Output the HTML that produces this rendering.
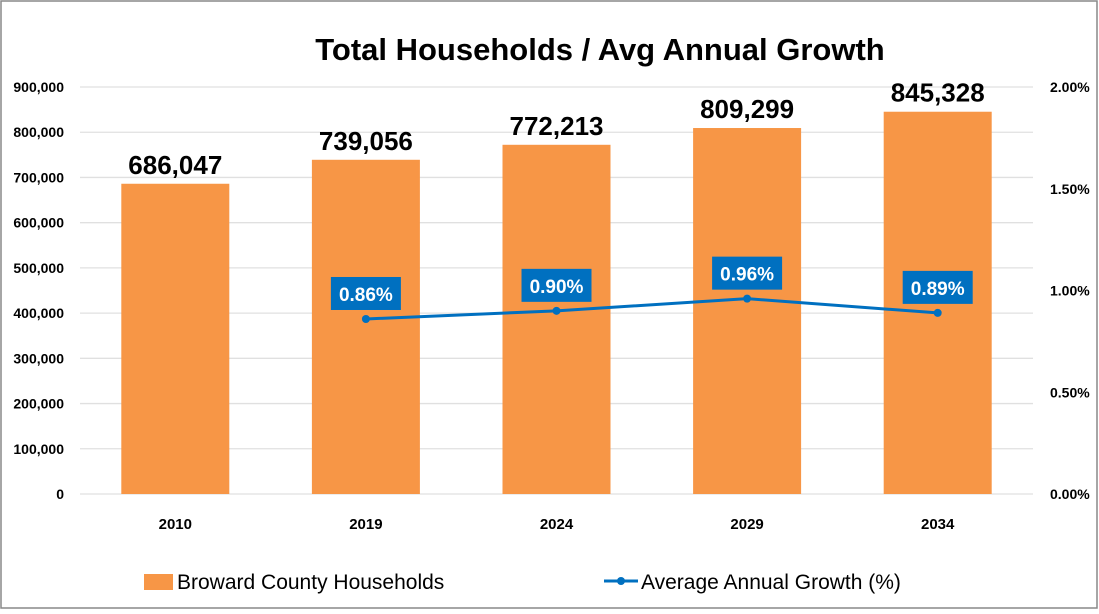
<!DOCTYPE html>
<html><head><meta charset="utf-8"><style>
body{margin:0;background:#fff;}
svg{display:block;font-family:"Liberation Sans",sans-serif;}
</style></head><body>
<svg id="c" width="1099" height="614">
<rect x="1" y="1" width="1096" height="607" fill="#fff" stroke="#888" stroke-width="1.5"/>
<text x="600" y="60" text-anchor="middle" font-size="31" font-weight="bold" fill="#000">Total Households / Avg Annual Growth</text>
<g id="grid"></g><g id="bars"></g><g id="line"></g><g id="labels"></g>
<g>
<rect x="144" y="574" width="29" height="16" fill="#F79646"/>
<text x="177" y="589" font-size="21" fill="#000">Broward County Households</text>
<line x1="604" y1="581" x2="638" y2="581" stroke="#0070C0" stroke-width="3"/>
<circle cx="621" cy="581" r="4" fill="#0070C0"/>
<text x="641" y="589" font-size="21" fill="#000">Average Annual Growth (%)</text>
</g>
</svg>
<script>
const categories=["2010","2019","2024","2029","2034"];
const households=[686047,739056,772213,809299,845328];
const growth=[null,0.86,0.90,0.96,0.89];
const leftTicks=[0,100000,200000,300000,400000,500000,600000,700000,800000,900000];
const rightTicks=[0,0.5,1.0,1.5,2.0];
const NS="http://www.w3.org/2000/svg";
const y0=494,y1=87,x0=80,step=190.6,bw=108;
const yL=v=>y0-(v/900000)*(y0-y1);
const yR=v=>y0-(v/2)*(y0-y1);
const xC=i=>x0+step*(i+0.5);
function mk(t,a,p,txt){const e=document.createElementNS(NS,t);for(const k in a)e.setAttribute(k,a[k]);if(txt!==undefined)e.textContent=txt;p.appendChild(e);return e;}
const G=document.getElementById('grid'),B=document.getElementById('bars'),L=document.getElementById('line'),T=document.getElementById('labels');
leftTicks.forEach(v=>{
 const ln=mk('line',{x1:80,x2:1033,y1:yL(v),y2:yL(v),stroke:'#e0e0e0','stroke-width':1.3},G);
 
 
 const t=mk('text',{x:64,y:yL(v)+5,'text-anchor':'end','font-size':14,'font-weight':'bold'},G,v.toLocaleString('en-US'));
 
 
});
rightTicks.forEach(v=>{
 const t=mk('text',{x:1050,y:yR(v)+5,'font-size':14,'font-weight':'bold'},G,v.toFixed(2)+'%');
 
 
});
categories.forEach((c,i)=>{
 const r=mk('rect',{x:xC(i)-bw/2,y:yL(households[i]),width:bw,height:y0-yL(households[i]),fill:'#F79646'},B);
 
 
 const vt=mk('text',{x:xC(i),y:yL(households[i])-10,'text-anchor':'middle','font-size':26,'font-weight':'bold'},T,households[i].toLocaleString('en-US'));
 
 
 const xt=mk('text',{x:xC(i),y:529,'text-anchor':'middle','font-size':15,'font-weight':'bold'},T,c);
 
 
});
let pts=[];growth.forEach((g,i)=>{if(g!==null)pts.push([xC(i),yR(g),g]);});
const pl=mk('polyline',{points:pts.map(p=>p[0]+','+p[1]).join(' '),fill:'none',stroke:'#0070C0','stroke-width':3},L);


pts.forEach(p=>{
 const c=mk('circle',{cx:p[0],cy:p[1],r:4,fill:'#0070C0'},L);
 
 
 const b=mk('rect',{x:p[0]-35,y:p[1]-42,width:70,height:33,fill:'#0070C0'},L);
 
 
 const t=mk('text',{x:p[0],y:p[1]-18,'text-anchor':'middle','font-size':19,'font-weight':'bold',fill:'#fff'},L,p[2].toFixed(2)+'%');
 
 
});
</script>
</body></html>
